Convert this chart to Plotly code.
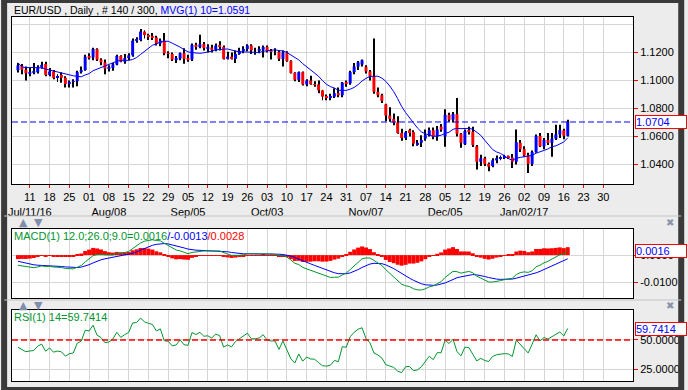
import numpy as np
import pandas as pd
import plotly.graph_objects as go

# ---------------- data ----------------
dates = pd.bdate_range("2016-07-06", "2017-01-31")   # trading-day slots (incl. empty future)
n_bars = 140

opens = [1.1074, 1.1105, 1.1078, 1.1052, 1.1058, 1.1060, 1.1095, 1.1118, 1.1040, 1.1065,
         1.1020, 1.1040, 1.1020, 1.0975, 1.0990, 1.0995, 1.1060, 1.1075, 1.1170, 1.1165,
         1.1225, 1.1150, 1.1130, 1.1085, 1.1090, 1.1115, 1.1175, 1.1135, 1.1160, 1.1180,
         1.1285, 1.1290, 1.1350, 1.1325, 1.1315, 1.1308, 1.1265, 1.1285, 1.1195, 1.1190,
         1.1150, 1.1157, 1.1195, 1.1155, 1.1150, 1.1255, 1.1240, 1.1260, 1.1232, 1.1235,
         1.1220, 1.1250, 1.1240, 1.1155, 1.1170, 1.1155, 1.1190, 1.1210, 1.1225, 1.1250,
         1.1215, 1.1215, 1.1220, 1.1240, 1.1210, 1.1205, 1.1205, 1.1155, 1.1200, 1.1140,
         1.1055, 1.1005, 1.1060, 1.0972, 1.1000, 1.0975, 1.0972, 1.0930, 1.0885, 1.0880,
         1.0885, 1.0910, 1.0895, 1.0985, 1.0980, 1.1060, 1.1100, 1.1115, 1.1098, 1.1065,
         1.1028, 1.0920, 1.0895, 1.0830, 1.0750, 1.0725, 1.0700, 1.0625, 1.0590, 1.0645,
         1.0632, 1.0545, 1.0557, 1.0585, 1.0610, 1.0645, 1.0600, 1.0670, 1.0600, 1.0755,
         1.0720, 1.0760, 1.0620, 1.0545, 1.0645, 1.0635, 1.0530, 1.0420, 1.0445, 1.0405,
         1.0390, 1.0430, 1.0445, 1.0452, 1.0455, 1.0450, 1.0420, 1.0555, 1.0510, 1.0465,
         1.0405, 1.0490, 1.0605, 1.0530, 1.0575, 1.0555, 1.0585, 1.0615, 1.0645, 1.0605]
highs = [1.1125, 1.1118, 1.1100, 1.1095, 1.1125, 1.1110, 1.1135, 1.1135, 1.1090, 1.1075,
         1.1045, 1.1060, 1.1030, 1.1000, 1.1010, 1.1070, 1.1100, 1.1185, 1.1195, 1.1235,
         1.1230, 1.1160, 1.1150, 1.1110, 1.1125, 1.1185, 1.1180, 1.1190, 1.1195, 1.1300,
         1.1310, 1.1368, 1.1360, 1.1335, 1.1340, 1.1320, 1.1300, 1.1340, 1.1210, 1.1200,
         1.1175, 1.1200, 1.1230, 1.1185, 1.1265, 1.1270, 1.1327, 1.1275, 1.1260, 1.1255,
         1.1265, 1.1280, 1.1250, 1.1205, 1.1200, 1.1215, 1.1235, 1.1245, 1.1260, 1.1260,
         1.1235, 1.1245, 1.1250, 1.1250, 1.1225, 1.1230, 1.1215, 1.1215, 1.1210, 1.1145,
         1.1060, 1.1065, 1.1065, 1.1010, 1.1035, 1.0995, 1.1000, 1.0935, 1.0900, 1.0905,
         1.0945, 1.0950, 1.0990, 1.1000, 1.1070, 1.1125, 1.1140, 1.1150, 1.1110, 1.1075,
         1.1300, 1.0950, 1.0905, 1.0835, 1.0810, 1.0765, 1.0745, 1.0655, 1.0640, 1.0655,
         1.0645, 1.0575, 1.0610, 1.0650, 1.0665, 1.0665, 1.0675, 1.0690, 1.0795, 1.0770,
         1.0775, 1.0875, 1.0625, 1.0650, 1.0670, 1.0670, 1.0540, 1.0470, 1.0455, 1.0415,
         1.0445, 1.0465, 1.0465, 1.0470, 1.0465, 1.0475, 1.0650, 1.0575, 1.0530, 1.0485,
         1.0500, 1.0615, 1.0625, 1.0590, 1.0625, 1.0625, 1.0685, 1.0685, 1.0655, 1.0720]
lows = [1.1058, 1.1045, 1.1000, 1.1030, 1.1045, 1.1050, 1.1085, 1.1030, 1.1030, 1.1010,
        1.0990, 1.0985, 1.0950, 1.0950, 1.0950, 1.0960, 1.1050, 1.1070, 1.1150, 1.1145,
        1.1140, 1.1110, 1.1045, 1.1065, 1.1070, 1.1110, 1.1130, 1.1120, 1.1145, 1.1170,
        1.1270, 1.1280, 1.1300, 1.1290, 1.1290, 1.1250, 1.1245, 1.1180, 1.1160, 1.1140,
        1.1125, 1.1145, 1.1120, 1.1135, 1.1140, 1.1220, 1.1230, 1.1215, 1.1200, 1.1200,
        1.1210, 1.1215, 1.1150, 1.1150, 1.1150, 1.1125, 1.1185, 1.1195, 1.1210, 1.1190,
        1.1185, 1.1195, 1.1165, 1.1200, 1.1150, 1.1180, 1.1140, 1.1100, 1.1135, 1.1050,
        1.0995, 1.0990, 1.0965, 1.0960, 1.0970, 1.0955, 1.0910, 1.0860, 1.0860, 1.0860,
        1.0875, 1.0880, 1.0880, 1.0955, 1.0970, 1.1045, 1.1075, 1.1100, 1.1050, 1.1000,
        1.0905, 1.0880, 1.0840, 1.0710, 1.0705, 1.0680, 1.0620, 1.0570, 1.0575, 1.0600,
        1.0530, 1.0535, 1.0525, 1.0570, 1.0600, 1.0580, 1.0570, 1.0635, 1.0528, 1.0705,
        1.0700, 1.0600, 1.0520, 1.0540, 1.0615, 1.0525, 1.0365, 1.0390, 1.0390, 1.0352,
        1.0380, 1.0410, 1.0430, 1.0440, 1.0440, 1.0375, 1.0400, 1.0490, 1.0455, 1.0340,
        1.0390, 1.0485, 1.0525, 1.0510, 1.0540, 1.0455, 1.0575, 1.0590, 1.0580, 1.0600]
closes = [1.1108, 1.1078, 1.1052, 1.1058, 1.1062, 1.1095, 1.1112, 1.1040, 1.1065, 1.1020,
          1.1028, 1.1020, 1.0975, 1.0990, 1.0995, 1.1060, 1.1075, 1.1170, 1.1165, 1.1225,
          1.1150, 1.1130, 1.1085, 1.1090, 1.1115, 1.1175, 1.1135, 1.1160, 1.1180, 1.1285,
          1.1290, 1.1350, 1.1325, 1.1315, 1.1308, 1.1265, 1.1285, 1.1195, 1.1190, 1.1150,
          1.1157, 1.1195, 1.1155, 1.1150, 1.1255, 1.1240, 1.1260, 1.1232, 1.1235, 1.1220,
          1.1250, 1.1240, 1.1155, 1.1170, 1.1155, 1.1190, 1.1210, 1.1225, 1.1250, 1.1215,
          1.1215, 1.1220, 1.1240, 1.1210, 1.1205, 1.1205, 1.1155, 1.1200, 1.1140, 1.1055,
          1.1005, 1.1060, 1.0972, 1.1000, 1.0975, 1.0972, 1.0930, 1.0885, 1.0880, 1.0885,
          1.0910, 1.0895, 1.0985, 1.0980, 1.1060, 1.1100, 1.1130, 1.1145, 1.1065, 1.1028,
          1.0920, 1.0895, 1.0855, 1.0750, 1.0725, 1.0700, 1.0625, 1.0590, 1.0630, 1.0632,
          1.0550, 1.0555, 1.0575, 1.0610, 1.0645, 1.0600, 1.0650, 1.0650, 1.0755, 1.0720,
          1.0760, 1.0620, 1.0555, 1.0640, 1.0635, 1.0540, 1.0420, 1.0445, 1.0405, 1.0385,
          1.0430, 1.0445, 1.0452, 1.0455, 1.0450, 1.0420, 1.0560, 1.0510, 1.0465, 1.0405,
          1.0490, 1.0605, 1.0530, 1.0575, 1.0555, 1.0585, 1.0615, 1.0645, 1.0605, 1.0704]
# closes before the visible window (Jun 1 - Jul 5 2016), only used to warm up the indicators
warmup_closes = [1.1185, 1.1150, 1.1365, 1.1355, 1.1360, 1.1395, 1.1315, 1.1250, 1.1285, 1.1210,
                 1.1260, 1.1225, 1.1275, 1.1310, 1.1270, 1.1295, 1.1370, 1.1115, 1.1025, 1.1075,
                 1.1125, 1.1105, 1.1135, 1.1140, 1.1075]

# indicator values as printed on the chart
shown_macd, shown_signal, shown_hist = 0.0016, -0.0013, 0.0028
shown_rsi = 59.7414

price_ticks = [1.04, 1.06, 1.08, 1.10, 1.12]
macd_ticks = [0.0, -0.01]
rsi_ticks = [25, 50]
month_labels = {"2016-07-11": "Jul/11/16", "2016-08-08": "Aug/08", "2016-09-05": "Sep/05",
                "2016-10-03": "Oct/03", "2016-11-07": "Nov/07", "2016-12-05": "Dec/05",
                "2017-01-02": "Jan/02/17"}
ma_period = 10
macd_fast, macd_slow, macd_sig = 12, 26, 9
rsi_period = 14

# ---------------- indicators ----------------
s = pd.Series(warmup_closes + closes, dtype=float)
sma = s.rolling(ma_period).mean().to_numpy()[-n_bars:]
macd_s = s.ewm(span=macd_fast, adjust=False).mean() - s.ewm(span=macd_slow, adjust=False).mean()
sig_s = macd_s.ewm(span=macd_sig, adjust=False).mean()
macd = macd_s.to_numpy()[-n_bars:]
sig = sig_s.to_numpy()[-n_bars:]
hist = macd - sig
d = s.diff().fillna(0)
ag = d.clip(lower=0).ewm(alpha=1 / rsi_period, adjust=False).mean()
al = (-d.clip(upper=0)).ewm(alpha=1 / rsi_period, adjust=False).mean()
rsi = (100 - 100 / (1 + ag / al)).to_numpy()[-n_bars:]

idx = np.arange(n_bars)
o, h, l, c = map(np.array, (opens, highs, lows, closes))
up = c >= o

# ticks
mondays = [i for i, dt in enumerate(dates) if dt.weekday() == 0]
ticktext = []
for i in mondays:
    key = dates[i].strftime("%Y-%m-%d")
    lab = dates[i].strftime("%d")
    if key in month_labels:
        lab += "<br>" + month_labels[key]
    ticktext.append(lab)

# ---------------- figure ----------------
FONT = "Arial, Liberation Sans, sans-serif"
GRID = "#D6D6D6"
GREEN = "#00962D"
XR = [-1.5, 155.5]
PX_PER_UNIT = 631.0 / (XR[1] - XR[0])

fig = go.Figure()
# wicks (thin black bars, drawn first so bodies cover them)
fig.add_trace(go.Bar(x=idx, base=l, y=h - l, width=1.0 / PX_PER_UNIT,
                     marker=dict(color="black", line=dict(width=0)), xaxis="x", yaxis="y"))
# bodies
fig.add_trace(go.Bar(x=idx, base=np.minimum(o, c), y=np.abs(c - o), width=3.0 / PX_PER_UNIT,
                     marker=dict(color=np.where(up, "#0000FF", "#FF0000"), line=dict(width=0)),
                     xaxis="x", yaxis="y"))
fig.add_trace(go.Scatter(x=idx, y=sma, mode="lines", line=dict(color="#0000FF", width=1),
                         xaxis="x", yaxis="y"))
fig.add_trace(go.Bar(x=idx, y=hist, width=1.0, marker=dict(color="#FF0000", line=dict(width=0)),
                     xaxis="x2", yaxis="y2"))
fig.add_trace(go.Scatter(x=idx, y=sig, mode="lines", line=dict(color="#0000FF", width=1),
                         xaxis="x2", yaxis="y2"))
fig.add_trace(go.Scatter(x=idx, y=macd, mode="lines", line=dict(color=GREEN, width=1),
                         xaxis="x2", yaxis="y2"))
fig.add_trace(go.Scatter(x=idx, y=rsi, mode="lines", line=dict(color=GREEN, width=1),
                         xaxis="x3", yaxis="y3"))

xcommon = dict(range=XR, tickmode="array", tickvals=mondays, showgrid=True, gridcolor=GRID,
               showline=True, linecolor="black", linewidth=1, mirror=True, zeroline=False,
               fixedrange=True)
ycommon = dict(side="right", showgrid=True, gridcolor=GRID, showline=True, linecolor="black",
               linewidth=1, mirror=True, zeroline=False, ticks="outside", ticklen=4,
               tickcolor="#FF0000", tickfont=dict(size=11, color="black"), fixedrange=True)

fig.update_layout(
    width=688, height=390, margin=dict(l=8, r=49, t=17, b=9),
    paper_bgcolor="#ECECEC", plot_bgcolor="white", showlegend=False, barmode="overlay",
    font=dict(family=FONT, size=11, color="black"),
    xaxis=dict(**xcommon, anchor="y", domain=[0, 1], ticktext=ticktext, ticks="outside",
               ticklen=3, tickcolor="#FF0000", tickfont=dict(size=11), tickangle=0),
    xaxis2=dict(**xcommon, anchor="y2", domain=[0, 1], showticklabels=False),
    xaxis3=dict(**xcommon, anchor="y3", domain=[0, 1], showticklabels=False),
    yaxis=dict(**ycommon, anchor="x", domain=[0.5412, 1], range=[1.0261, 1.1454],
               tickvals=price_ticks, ticktext=[f"{v:.4f}" for v in price_ticks]),
    yaxis2=dict(**ycommon, anchor="x2", domain=[0.2280, 0.4176], range=[-0.0156, 0.0095],
                tickvals=macd_ticks, ticktext=[f"{v:.4f}" for v in macd_ticks]),
    yaxis3=dict(**ycommon, anchor="x3", domain=[0, 0.1951], range=[15.0, 75.6],
                tickvals=rsi_ticks, ticktext=[f"{v:.4f}" for v in rsi_ticks]),
)

# extra grid line at 1.14, last-close dashed line, RSI 50 line
fig.add_shape(type="line", xref="x domain", yref="y", x0=0, x1=1, y0=1.14, y1=1.14,
              line=dict(color=GRID, width=1), layer="below")
fig.add_shape(type="line", xref="x domain", yref="y", x0=0, x1=1, y0=c[-1], y1=c[-1],
              line=dict(color="#0000FF", width=1, dash="6px,3px"))
fig.add_shape(type="line", xref="x3 domain", yref="y3", x0=0, x1=1, y0=50, y1=50,
              line=dict(color="#FF0000", width=1.3, dash="6px,3px"))


def px_x(p):
    return (p - 8) / 631.0


def px_y(p):
    return (381 - p) / 364.0


# outer dark frame and separators
fig.add_shape(type="rect", xref="paper", yref="paper", x0=px_x(0), x1=px_x(688),
              y0=px_y(390), y1=px_y(0), line=dict(color="#3A3A3A", width=6))
for yy in (216, 300):
    fig.add_shape(type="line", xref="paper", yref="paper", x0=px_x(0), x1=px_x(688),
                  y0=px_y(yy), y1=px_y(yy), line=dict(color="#C4C4C4", width=1))

# texts
fig.add_annotation(xref="paper", yref="paper", x=0, y=px_y(10), xanchor="left", yanchor="middle",
                   showarrow=False, font=dict(size=10.5, color="black"),
                   text="EUR/USD , Daily , # 140 / 300, "
                        f"<span style='color:#0000FF'>MVG(1) {ma_period}={sma[-1]:.4f}</span>")
fig.add_annotation(xref="paper", yref="paper", x=0, y=px_y(236), xanchor="left", yanchor="middle",
                   showarrow=False, font=dict(size=11, color=GREEN),
                   text=f"MACD(1) {macd_fast:.1f};{macd_slow:.1f};{macd_sig:.1f}={shown_macd:.4f}"
                        f"<span style='color:#0000FF'>/{shown_signal:.4f}</span>"
                        f"<span style='color:#FF0000'>/{shown_hist:.4f}</span>")
fig.add_annotation(xref="paper", yref="paper", x=0, y=px_y(317), xanchor="left", yanchor="middle",
                   showarrow=False, font=dict(size=11, color=GREEN),
                   text=f"RSI(1) {rsi_period}={shown_rsi:.4f}")

# value boxes on the right axis
for yref, val, txt in (("y", c[-1], f"{c[-1]:.4f}"), ("y2", shown_macd, f"{shown_macd:.4f}"),
                       ("y3", shown_rsi, f"{shown_rsi:.4f}")):
    fig.add_annotation(xref="paper", yref=yref, x=1, y=val, xanchor="left", yanchor="middle",
                       xshift=2, showarrow=False, text=txt, width=50, align="left",
                       font=dict(size=11, color="#0000FF"), bgcolor="white",
                       bordercolor="#FF0000", borderwidth=1, borderpad=0)

# panel arrows / close icons
ICON_FONT = "DejaVu Sans"
for yy in (222, 305):
    for xx, sym in ((20, "\u25B2"), (35, "\u25BC")):
        fig.add_annotation(xref="paper", yref="paper", x=px_x(xx), y=px_y(yy), showarrow=False,
                           text=sym, xanchor="center", yanchor="middle",
                           font=dict(family=ICON_FONT, size=11, color="#7F8EAA"))
    fig.add_annotation(xref="paper", yref="paper", x=px_x(677), y=px_y(yy), showarrow=False,
                       text="\u2716", xanchor="center", yanchor="middle",
                       font=dict(family=ICON_FONT, size=10, color="#8795AA"))

fig.write_html("out.html")
